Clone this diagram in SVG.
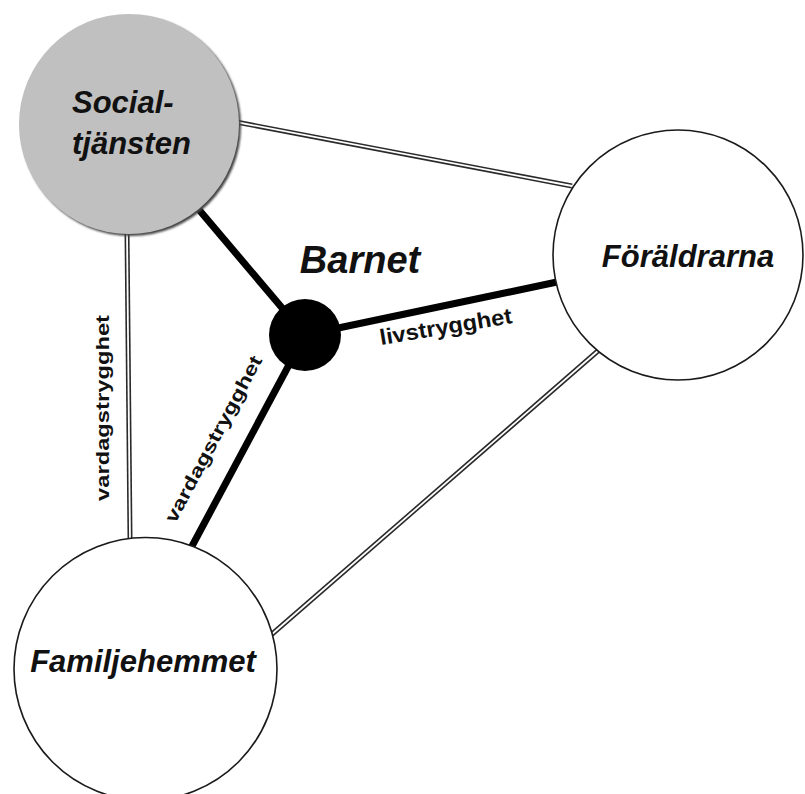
<svg xmlns="http://www.w3.org/2000/svg" width="805" height="794" viewBox="0 0 805 794">
  <defs>
    <filter id="shadow" x="-10%" y="-10%" width="130%" height="130%">
      <feGaussianBlur stdDeviation="1.2"/>
    </filter>
    <style>
      .node-white { fill: #ffffff; stroke: #1a1a1a; stroke-width: 1.6; }
      .node-gray { fill: #c0c0c0; stroke: none; }
      .title { font-family: "Liberation Sans", Arial, sans-serif; font-weight: bold; font-style: italic; fill: #111; }
      .lbl { font-family: "Liberation Sans", Arial, sans-serif; font-weight: bold; fill: #111; }
      .dbl-out { stroke: #2a2a2a; stroke-width: 5; fill: none; }
      .dbl-in { stroke: #ffffff; stroke-width: 1.8; fill: none; }
      .thick { stroke: #000; stroke-width: 7; fill: none; }
    </style>
  </defs>
  <rect width="805" height="794" fill="#ffffff"/>

  <g id="connectors">
    <line class="dbl-out" x1="236" y1="122" x2="572" y2="186"/>
    <line class="dbl-in" x1="236" y1="122" x2="572" y2="186"/>
    <line class="dbl-out" x1="127" y1="232" x2="130" y2="538"/>
    <line class="dbl-in" x1="127" y1="232" x2="130" y2="538"/>
    <line class="dbl-out" x1="599" y1="350" x2="271" y2="635"/>
    <line class="dbl-in" x1="599" y1="350" x2="271" y2="635"/>
    <line class="thick" x1="195" y1="205" x2="305" y2="335"/>
    <line class="thick" x1="305" y1="335" x2="557" y2="282"/>
    <line class="thick" x1="305" y1="335" x2="191" y2="548"/>
  </g>

  <g id="socialtjansten">
    <circle cx="131" cy="126" r="110" fill="#444" filter="url(#shadow)"/>
    <circle class="node-gray" cx="129" cy="124" r="110"/>
    <text class="title" font-size="31" x="72" y="113">Social-</text>
    <text class="title" font-size="31" x="72" y="154">tjänsten</text>
  </g>

  <g id="foraldrarna">
    <circle class="node-white" cx="678" cy="255" r="125"/>
    <text class="title" font-size="31" x="688" y="267" text-anchor="middle">Föräldrarna</text>
  </g>

  <g id="familjehemmet">
    <circle class="node-white" cx="145.5" cy="669" r="131.5"/>
    <text class="title" font-size="31" x="143" y="672" text-anchor="middle">Familjehemmet</text>
  </g>

  <g id="barnet">
    <circle cx="305" cy="335" r="36" fill="#000"/>
    <text class="title" font-size="38" x="360" y="273" text-anchor="middle">Barnet</text>
  </g>

  <g id="labels">
    <text class="lbl" font-size="22" x="447" y="334" text-anchor="middle" textLength="134" lengthAdjust="spacingAndGlyphs" transform="rotate(-9.5 447 334)">livstrygghet</text>
    <text class="lbl" font-size="18.5" x="109" y="408" text-anchor="middle" textLength="186" lengthAdjust="spacingAndGlyphs" transform="rotate(-90 109 408)">vardagstrygghet</text>
    <text class="lbl" font-size="18.5" x="219" y="442" text-anchor="middle" textLength="186" lengthAdjust="spacingAndGlyphs" transform="rotate(-62 219 442)">vardagstrygghet</text>
  </g>
</svg>
